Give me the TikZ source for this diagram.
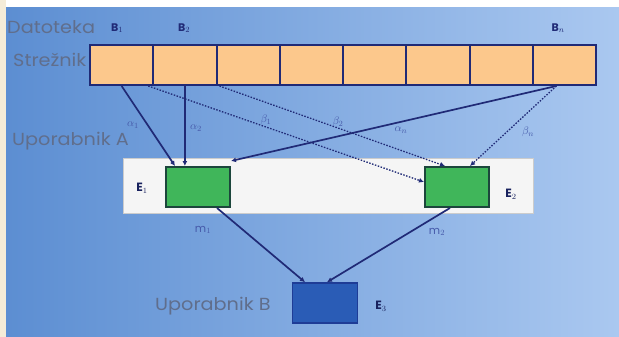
\documentclass[tikz,border=0pt]{standalone}
\usepackage{fontspec}
\setmainfont{Poppins}
\newfontfamily\widefont[FakeStretch=1.1]{Poppins}
\usetikzlibrary{arrows.meta}
\definecolor{bgL}{RGB}{92,142,210}
\definecolor{bgR}{RGB}{170,200,240}
\definecolor{navy}{RGB}{32,42,118}
\definecolor{cellfill}{RGB}{252,200,140}
\definecolor{greenfill}{RGB}{64,182,90}
\definecolor{greenline}{RGB}{28,70,60}
\definecolor{e3fill}{RGB}{42,92,182}
\definecolor{e3line}{RGB}{30,60,150}
\definecolor{grtext}{RGB}{96,110,140}
\definecolor{lbl}{RGB}{70,90,170}
\definecolor{beige}{RGB}{244,236,216}
\tikzset{
  x=1pt, y=-1pt,
  cell/.style={draw=navy, line width=2pt, fill=cellfill, minimum width=63.25pt, minimum height=40pt, inner sep=0pt},
  ebox/.style={draw=greenline, line width=2pt, fill=greenfill, minimum width=64pt, minimum height=40pt, inner sep=0pt},
  e3box/.style={draw=e3line, line width=1.6pt, fill=e3fill, minimum width=65pt, minimum height=40pt, inner sep=0pt},
  conn/.style={draw=navy, line width=1.7pt, -{Latex[length=5pt,width=5pt]}},
  dconn/.style={draw=navy, line width=1.3pt, dash pattern=on 1.5pt off 1.5pt, -{Latex[length=5pt,width=5pt]}},
  big/.style={text=grtext, font=\widefont\fontsize{17.5}{18}\selectfont, inner sep=0pt},
  blbl/.style={text=navy, font=\fontsize{11}{12}\selectfont\bfseries, inner sep=0pt},
  elbl/.style={text=navy!80!black, font=\fontsize{12}{13}\selectfont\bfseries, inner sep=0pt},
  glbl/.style={text=lbl, font=\fontsize{11}{12}\selectfont, inner sep=0pt},
}
\begin{document}
\begin{tikzpicture}
\useasboundingbox (0,0) rectangle (619,337);
\fill[white] (0,0) rectangle (619,337);
\fill[beige] (0,0) rectangle (6,337);
\shade[left color=bgL, right color=bgR] (6,8) rectangle (619,337);
% white band
\fill[white!92!gray, draw=gray!40, line width=0.8pt] (123,158) rectangle (533,213);
% cells
\foreach \i in {1,...,8} {
  \node[cell] (c\i) at ({90+31.625+63.25*(\i-1)},65) {};
}
\node[ebox] (E1) at (198,187) {};
\node[ebox] (E2) at (457,187) {};
\node[e3box] (E3) at (325,303) {};
% texts
\node[big, anchor=west] (dat) at (7,27) {Datoteka};
\node[big, anchor=west] (str) at (13,60) {Strežnik};
\node[big, anchor=west] (ua) at (12,141) {Uporabnik A};
\node[big, anchor=west] (ub) at (155,306) {Uporabnik B};
\node[blbl] (b1) at (117,28) {B$_1$};
\node[blbl] (b2) at (184,28) {B$_2$};
\node[blbl] (bn) at (558,28) {B$_n$};
\node[elbl] (e1l) at (142,188) {E$_1$};
\node[elbl] (e2l) at (511,194) {E$_2$};
\node[elbl] (e3l) at (381,306) {E$_3$};
% connectors
\draw[conn] (c1.south) -- ([xshift=-23pt]E1.north);
\draw[conn] (c2.south) -- (c2.south |- E1.north);
\draw[dconn] ([xshift=-6pt]c1.south east) -- ([yshift=5pt]E2.west);
\draw[dconn] ([xshift=4pt]c3.south west) -- ([xshift=-12pt]E2.north);
\draw[conn] ([xshift=-8pt]c8.south) -- ([yshift=5pt]E1.north east);
\draw[dconn] ([xshift=-8pt]c8.south) -- ([xshift=13pt]E2.north);
\draw[conn] ([xshift=19pt]E1.south) -- ([xshift=-20pt]E3.north);
\draw[conn] ([xshift=-7pt]E2.south) -- ([xshift=2pt]E3.north);
% edge labels
\node[glbl] (la1) at (133,125) {$\alpha_1$};
\node[glbl] (la2) at (196,128) {$\alpha_2$};
\node[glbl] (lb1) at (266,120) {$\beta_1$};
\node[glbl] (lb2) at (338,122) {$\beta_2$};
\node[glbl] (lan) at (401,130) {$\alpha_n$};
\node[glbl] (lbn) at (528,132) {$\beta_n$};
\node[glbl] (lm1) at (203,230) {m$_1$};
\node[glbl] (lm2) at (437,232) {m$_2$};
\end{tikzpicture}
\end{document}
